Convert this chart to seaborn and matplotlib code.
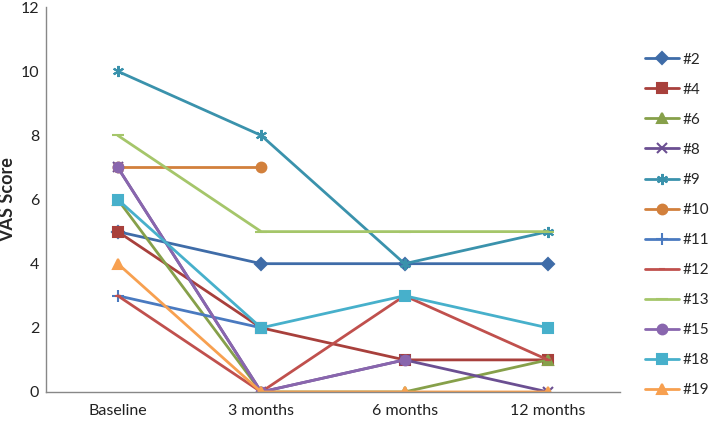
import numpy as np
import pandas as pd
import matplotlib
matplotlib.use("Agg")
import matplotlib.pyplot as plt
import seaborn as sns

# data
timepoints = ["Baseline", "3 months", "6 months", "12 months"]
patients = ["#2", "#4", "#6", "#8", "#9", "#10", "#11", "#12", "#13", "#15", "#18", "#19"]
p2 = [5, 4, 4, 4]
p4 = [5, 2, 1, 1]
p6 = [6, 0, 0, 1]
p8 = [7, 0, 1, 0]
p9 = [10, 8, 4, 5]
p10 = [7, 7, np.nan, np.nan]
p11 = [3, 2, np.nan, np.nan]
p12 = [3, 0, 3, 1]
p13 = [8, 5, 5, 5]
p15 = [7, 0, 1, np.nan]
p18 = [6, 2, 3, 2]
p19 = [4, 0, 0, 0]
scores = [p2, p4, p6, p8, p9, p10, p11, p12, p13, p15, p18, p19]

colors = ["#3F6CA8", "#A8403C", "#86A04A", "#6B4F92", "#3A92AC", "#D2803C",
          "#4A7AC0", "#C0504D", "#A5C66A", "#8966AE", "#47B0CB", "#F7A050"]
markers = ["D", "s", "^", "x", (6, 2, 0), "o", "+", "_", "_", "o", "s", "^"]
msizes = [6, 7, 7, 7, 8, 7, 8, 5, 8, 7, 7, 7]

rows = []
for name, vals in zip(patients, scores):
    for t, v in zip(timepoints, vals):
        rows.append({"patient": name, "time": t, "score": v})
df = pd.DataFrame(rows)

sns.set_style("white")
plt.rcParams["font.family"] = ["Lato", "DejaVu Sans"]

fig = plt.figure(figsize=(7.09, 4.21), dpi=100)
ax = fig.add_axes([0.065, 0.069, 0.809, 0.914])

for name, c, m, ms in zip(patients, colors, markers, msizes):
    sub = df[df["patient"] == name].dropna()
    sns.lineplot(data=sub, x="time", y="score", ax=ax, color=c, marker=m,
                 markersize=ms, markeredgecolor=c, markeredgewidth=1.5,
                 linewidth=2, label=name, sort=False)

ax.set_xlim(-0.5, 3.5)
ax.set_ylim(0, 12)
ax.set_yticks(range(0, 13, 2))
ax.set_xlabel("")
ax.set_ylabel("VAS Score", fontsize=13, fontweight="bold", labelpad=3)
ax.tick_params(axis="both", length=0, labelsize=11.5, colors="#222222")
ax.tick_params(axis="y", pad=5)
ax.tick_params(axis="x", pad=9)
for s in ["top", "right"]:
    ax.spines[s].set_visible(False)
for s in ["left", "bottom"]:
    ax.spines[s].set_color("#888888")
    ax.spines[s].set_linewidth(1)

ax.legend(loc="center left", bbox_to_anchor=(1.028, 0.434), frameon=False,
          borderaxespad=0.3, borderpad=0.3,
          fontsize=11, labelspacing=1.05, handlelength=2.2, handletextpad=0.25)

plt.savefig("out.png", dpi=100)
